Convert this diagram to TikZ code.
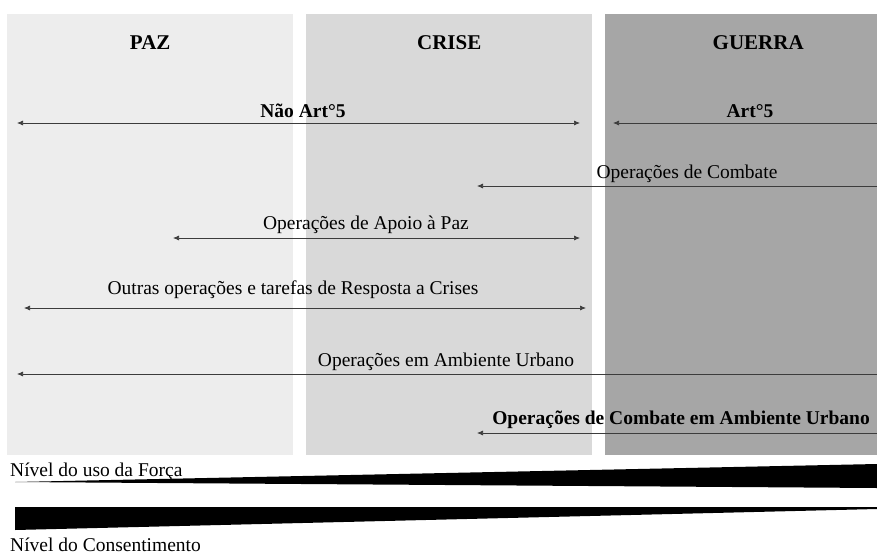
\documentclass[tikz,border=0pt]{standalone}
\usepackage{fontspec}
\setmainfont{Liberation Serif}
\usetikzlibrary{positioning,arrows.meta}

\definecolor{pazgray}{HTML}{EDEDED}
\definecolor{crisegray}{HTML}{D9D9D9}
\definecolor{guerragray}{HTML}{A6A6A6}
\definecolor{linegray}{HTML}{3C3C3C}

\tikzset{
  phase/.style={fill=#1, draw=none, minimum height=441pt, anchor=north west, inner sep=0pt},
  title/.style={font=\fontsize{21}{24}\selectfont\bfseries, inner sep=0pt},
  oplabel/.style={font=\fontsize{19.5}{22}\selectfont, inner sep=0pt, anchor=base},
  opbold/.style={oplabel, font=\fontsize{19.5}{22}\selectfont\bfseries},
  oparrow/.style={draw=linegray, line width=0.7pt, {Latex[length=6pt,width=5pt]}-{Latex[length=6pt,width=5pt]}},
  opleft/.style={draw=linegray, line width=0.7pt, {Latex[length=6pt,width=5pt]}-},
  levellabel/.style={font=\fontsize{19.5}{22}\selectfont, inner sep=0pt, anchor=base west}
}

\begin{document}
\begin{tikzpicture}[x=1pt, y=-1pt]

      \clip (0,0) rectangle (877,554);

      % Phases
      \node[phase=pazgray, minimum width=286pt]    (paz) at (7,14) {};
      \node[phase=crisegray, minimum width=286pt]  (crise) at (306,14) {};
      \node[phase=guerragray, minimum width=306pt] (guerra) at (605,14) {};
      \node[title, below=21pt of paz.north]        (paz-title) {PAZ};
      \node[title, below=21pt of crise.north]      (crise-title) {CRISE};
      \node[title, below=21pt of guerra.north]     (guerra-title) {GUERRA};

      % Arrow ends
      \coordinate (naoart-l) at (17,123);
      \coordinate (naoart-r) at (580,123);
      \coordinate (art-l)    at (613,123);
      \coordinate (art-r)    at (884,123);
      \coordinate (comb-l)   at (477,186);
      \coordinate (comb-r)   at (884,186);
      \coordinate (apoio-l)  at (173,238);
      \coordinate (apoio-r)  at (580,238);
      \coordinate (outras-l) at (24,308);
      \coordinate (outras-r) at (586,308);
      \coordinate (urb-l)    at (17,374);
      \coordinate (urb-r)    at (884,374);
      \coordinate (combu-l)  at (477,433);
      \coordinate (combu-r)  at (884,433);

      % Labels
      \node[opbold]  (naoart) at (303,117) {Não Art°5};
      \node[opbold]  (art)    at (750,117) {Art°5};
      \node[oplabel] (comb)   at (687,178) {Operações de Combate};
      \node[oplabel] (apoio)  at (366,229) {Operações de Apoio à Paz};
      \node[oplabel] (outras) at (293,294) {Outras operações e tarefas de Resposta a Crises};
      \node[oplabel] (urb)    at (446,366) {Operações em Ambiente Urbano};
      \node[opbold]  (combu)  at (681,424) {Operações de Combate em Ambiente Urbano};

      % Connect the ends
      \draw[oparrow] (naoart-l) -- (naoart-r);
      \draw[oparrow] (art-l) -- (art-r);
      \draw[opleft]  (comb-l) -- (comb-r);
      \draw[oparrow] (apoio-l) -- (apoio-r);
      \draw[oparrow] (outras-l) -- (outras-r);
      \draw[oparrow] (urb-l) -- (urb-r);
      \draw[opleft]  (combu-l) -- (combu-r);

      % Levels
      \node[levellabel] (forca) at (10,476) {Nível do uso da Força};
      \fill (15,482) -- (877,464) -- (877,488) -- cycle;
      \fill (15,507) -- (877,507) -- (877,509) -- (15,530) -- cycle;
      \node[levellabel] (consent) at (10,551) {Nível do Consentimento};

\end{tikzpicture}
\end{document}
